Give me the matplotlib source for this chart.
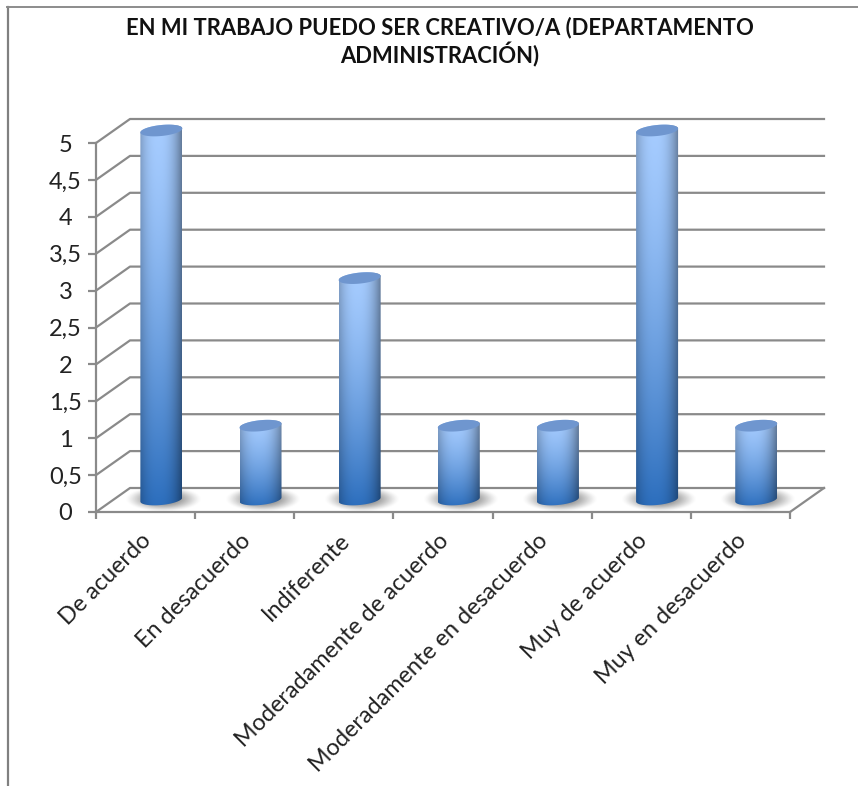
import numpy as np
import matplotlib
matplotlib.use('Agg')
import matplotlib.pyplot as plt
from matplotlib.patches import Polygon
from matplotlib.lines import Line2D
from matplotlib.transforms import ScaledTranslation

categories = ['De acuerdo', 'En desacuerdo', 'Indiferente', 'Moderadamente de acuerdo',
              'Moderadamente en desacuerdo', 'Muy de acuerdo', 'Muy en desacuerdo']
values = [5, 1, 3, 1, 1, 5, 1]
y_ticks = [0, 0.5, 1, 1.5, 2, 2.5, 3, 3.5, 4, 4.5, 5]
y_labels = ['0', '0,5', '1', '1,5', '2', '2,5', '3', '3,5', '4', '4,5', '5']
title = 'EN MI TRABAJO PUEDO SER CREATIVO/A (DEPARTAMENTO\nADMINISTRACIÓN)'

W, H = 858, 786
grey = '#8a8a8a'
plt.rcParams['font.family'] = ['Lato', 'DejaVu Sans']

fig = plt.figure(figsize=(W / 100, H / 100), dpi=100)
left, right, top, bottom = 96, 790, 143, 512
ax = fig.add_axes([left / W, 1 - bottom / H, (right - left) / W, (bottom - top) / H])
ax.set_facecolor('none')

# px -> data units
ux = (right - left) / 7
uy = (bottom - top) / 5
depth_x = 34 / ux
depth_y = 24 / uy

# walls and floor
for v in y_ticks:
    ax.plot([-0.5, -0.5 + depth_x, 6.5 + depth_x], [v, v + depth_y, v + depth_y],
            color=grey, lw=1.6, clip_on=False, zorder=1)
ax.plot([6.5, 6.5 + depth_x], [0, depth_y], color=grey, lw=1.6, clip_on=False, zorder=1)

# cylinder sizes in pixels
bar_w = 42
cap_b = 5.5
cap_tilt = 2.0
off_x = 15.8 / ux
off_y = 12.5 / uy
t = np.linspace(0, 2 * np.pi, 121)


def bar_image(nx=80, ny=200):
    # light at the top, dark blue at the base, shaded towards the sides
    light = np.array([0.65, 0.80, 1.0])
    dark = np.array([0.17, 0.43, 0.74])
    span = np.linspace(0, 1, ny)[:, None]
    frac = span ** 1.4
    col = light[None, :] * (1 - frac) + dark[None, :] * frac
    xs = np.linspace(-1, 1, nx)
    shade = 1.0 - 0.30 * np.abs(xs + 0.12) ** 2.4
    return np.clip(col[:, None, :] * shade[None, :, None], 0, 1)


for i, v in enumerate(values):
    cx = i + off_x
    a = bar_w / 2 / ux
    ex = a * np.cos(t)
    ey = (cap_b * np.sin(t) + cap_tilt * np.cos(t)) / uy

    # soft shadow on the floor, fades out to nothing before the image edge
    sx, sy = np.meshgrid(np.linspace(-1, 1, 120), np.linspace(-1, 1, 40))
    alpha = np.clip(1 - (sx ** 2 + sy ** 2), 0, 1) ** 1.5 * 0.85
    shadow = np.zeros((40, 120, 4))
    shadow[..., :3] = 0.40
    shadow[..., 3] = alpha
    ax.imshow(shadow, extent=[cx - 36 / ux, cx + 40 / ux, off_y - 12 / uy, off_y + 14 / uy],
              aspect='auto', zorder=2, clip_on=False, interpolation='bilinear')

    # body: lower half of base ellipse, then upper half of top ellipse
    low = t[t >= np.pi]
    up = t[t <= np.pi]
    bx = a * np.cos(low)
    by = off_y + (cap_b * np.sin(low) + cap_tilt * np.cos(low)) / uy
    tx = a * np.cos(up)
    ty = off_y + v + (cap_b * np.sin(up) + cap_tilt * np.cos(up)) / uy
    body = Polygon(np.column_stack([cx + np.r_[bx, tx], np.r_[by, ty]]),
                   closed=True, transform=ax.transData, facecolor='none', edgecolor='none')
    ax.add_patch(body)
    im = ax.imshow(bar_image(), extent=[cx - a, cx + a, off_y - 8 / uy, off_y + v + 8 / uy],
                   origin='upper', aspect='auto', zorder=3, interpolation='bilinear')
    im.set_clip_path(body)
    im.set_clip_box(fig.bbox)

    # top cap
    ax.fill(cx + ex, off_y + v + ey, color='#6f96cf', lw=0, zorder=4, clip_on=False)

ax.set_xlim(-0.5, 6.5)
ax.set_ylim(0, 5)

for side in ['top', 'right']:
    ax.spines[side].set_visible(False)
for side in ['left', 'bottom']:
    ax.spines[side].set_color(grey)
    ax.spines[side].set_linewidth(1.6)
    ax.spines[side].set_zorder(5)

ax.set_yticks(y_ticks)
ax.set_yticklabels(y_labels, fontsize=17, color='#222222', ha='center')
ax.tick_params(axis='y', color=grey, width=1.6, length=6, pad=16)

ax.set_xticks(range(7))
ax.set_xticklabels(categories, rotation=45, ha='right', rotation_mode='anchor',
                   fontsize=16.8, color='#222222')
ax.set_xticks(np.arange(-0.5, 7, 1), minor=True)
ax.tick_params(axis='x', which='major', length=0, pad=13)
ax.tick_params(axis='x', which='minor', color=grey, width=1.6, length=5)
shift = ScaledTranslation(-5 / 100, 0, fig.dpi_scale_trans)
for lab in ax.get_xticklabels():
    lab.set_transform(lab.get_transform() + shift)

fig.text(440 / W, 1 - 42 / H, title, ha='center', va='center', fontsize=15.8,
         fontweight='bold', color='#111111', linespacing=1.15)

# outer chart frame
fig.add_artist(Line2D([7.5 / W, 7.5 / W], [0, 1 - 7 / H], color='#808080', lw=1.6))
fig.add_artist(Line2D([7 / W, 1], [1 - 7 / H, 1 - 7 / H], color='#8c8c8c', lw=1.4))

fig.savefig('out.png', dpi=100)
